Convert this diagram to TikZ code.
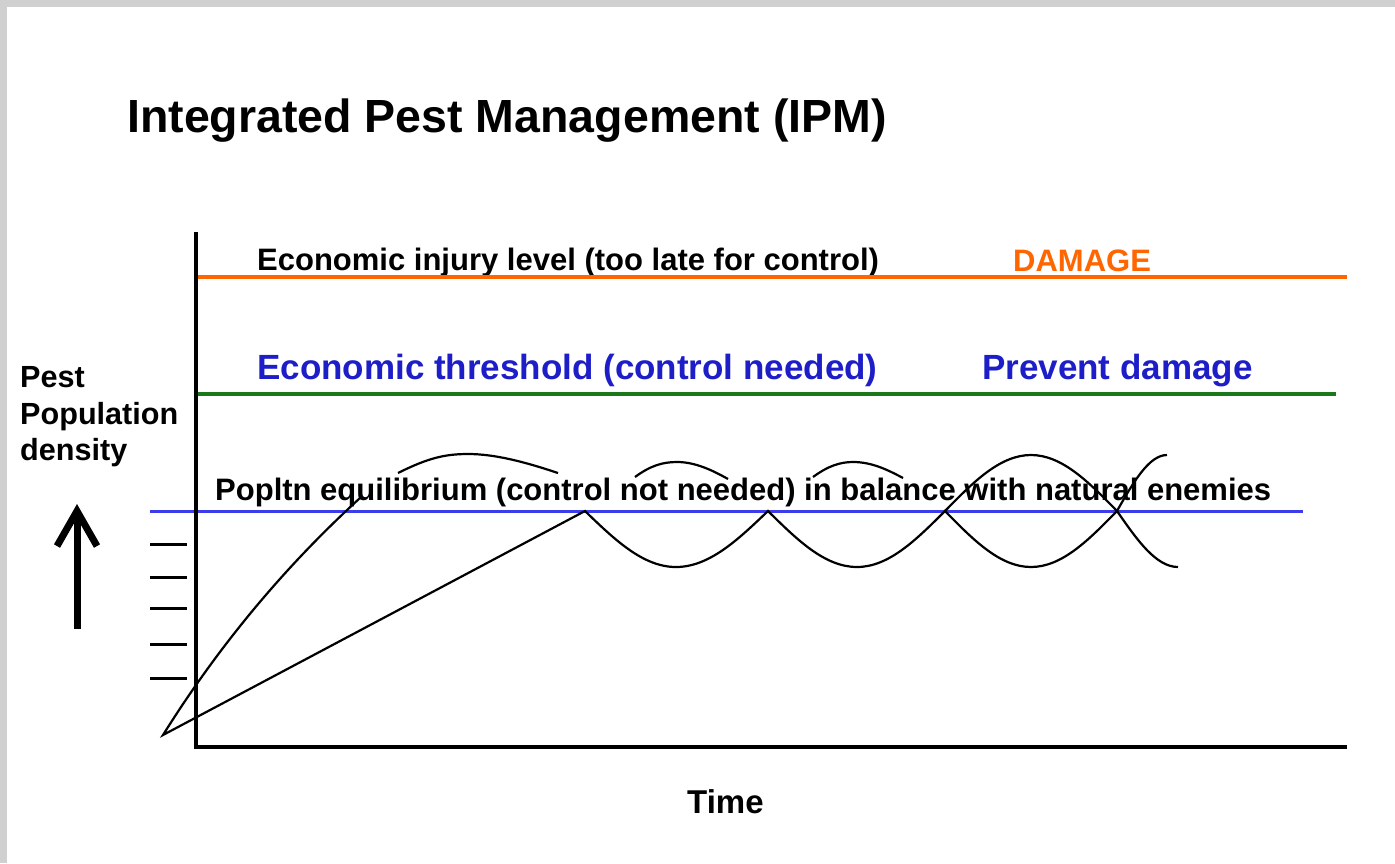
\documentclass[tikz,border=0pt]{standalone}
\usepackage{fontspec}
\setmainfont{Liberation Sans}
\usetikzlibrary{arrows.meta}
\definecolor{injury}{RGB}{255,102,0}
\definecolor{thresh}{RGB}{25,120,25}
\definecolor{balance}{RGB}{60,60,235}
\definecolor{textblue}{RGB}{30,30,200}
\definecolor{frame}{RGB}{208,208,208}
\newcommand{\Fs}[1]{\fontsize{#1}{#1}\selectfont\bfseries}

\begin{document}
\begin{tikzpicture}[x=1pt,y=-1pt,
	lbl/.style={anchor=base west, inner sep=0pt, font=\Fs{31}},
	curve/.style={line width=2.2pt, black},
	level/.style={line width=4pt}]
	  % Frame
	  \fill[frame] (0,0) rectangle (1395,863);
	  \fill[white] (7,7) rectangle (1395,863);
	  \useasboundingbox (0,0) rectangle (1395,863);

	  % Define nodes
	  \node[lbl, font=\Fs{46.5}] (T) at (127,132) {Integrated Pest Management (IPM)};
	  \node[lbl]                       (EIL) at (257,270) {Economic injury level (too late for control)};
	  \node[lbl, text=injury]          (D)   at (1013,271) {DAMAGE};
	  \node[lbl, font=\Fs{35}, text=textblue] (ET) at (257,379) {Economic threshold (control needed)};
	  \node[lbl, font=\Fs{35}, text=textblue] (PD) at (982,379) {Prevent damage};
	  \node[lbl]                       (EQ)  at (215,500) {Popltn equilibrium (control not needed) in balance with natural enemies};
	  \node[lbl, font=\Fs{30.6}]       (Y1)  at (20,387) {Pest};
	  \node[lbl, font=\Fs{30.6}]       (Y2)  at (20,424) {Population};
	  \node[lbl, font=\Fs{30.6}]       (Y3)  at (20,460) {density};
	  \node[lbl, font=\Fs{33}]         (X)   at (687,813) {Time};

	  % Levels
	  \draw[level, injury]  (198,277) -- (1347,277);
	  \draw[level, thresh]  (198,394) -- (1336,394);
	  \draw[line width=3pt, balance] (150,511) -- (1303,511);

	  % Axes and scale
	  \draw[line width=4.5pt] (196,232) -- (196,747) -- (1347,747);
	  \foreach \y in {544,577,608,644,678}
	    \draw[line width=3pt] (150,\y) -- (187,\y);
	  \draw[line width=7pt, -{Straight Barb[length=35pt, width=40pt]}] (77,629) -- (77,504);

	  % Population curves
	  \draw[curve] (360,498) .. controls (290,562) and (223,639) .. (163,735)
	    -- (585,511) sin (676,567) cos (768,511) sin (857,567) cos (945,511)
	    sin (1031,567) cos (1117,511) sin (1167,455);
	  \draw[curve] (945,511) sin (1031,455) cos (1117,511) sin (1178,567);
	  \draw[curve] (398,473) .. controls (428,458) and (445,454) .. (468,454)
	    .. controls (495,454) and (525,462) .. (558,473);
	  \draw[curve] (635,477) .. controls (650,466) and (662,462) .. (677,462)
	    .. controls (695,462) and (712,470) .. (728,479);
	  \draw[curve] (813,477) .. controls (828,466) and (840,462) .. (853,462)
	    .. controls (872,462) and (888,470) .. (903,478);
	\end{tikzpicture}
\end{document}
